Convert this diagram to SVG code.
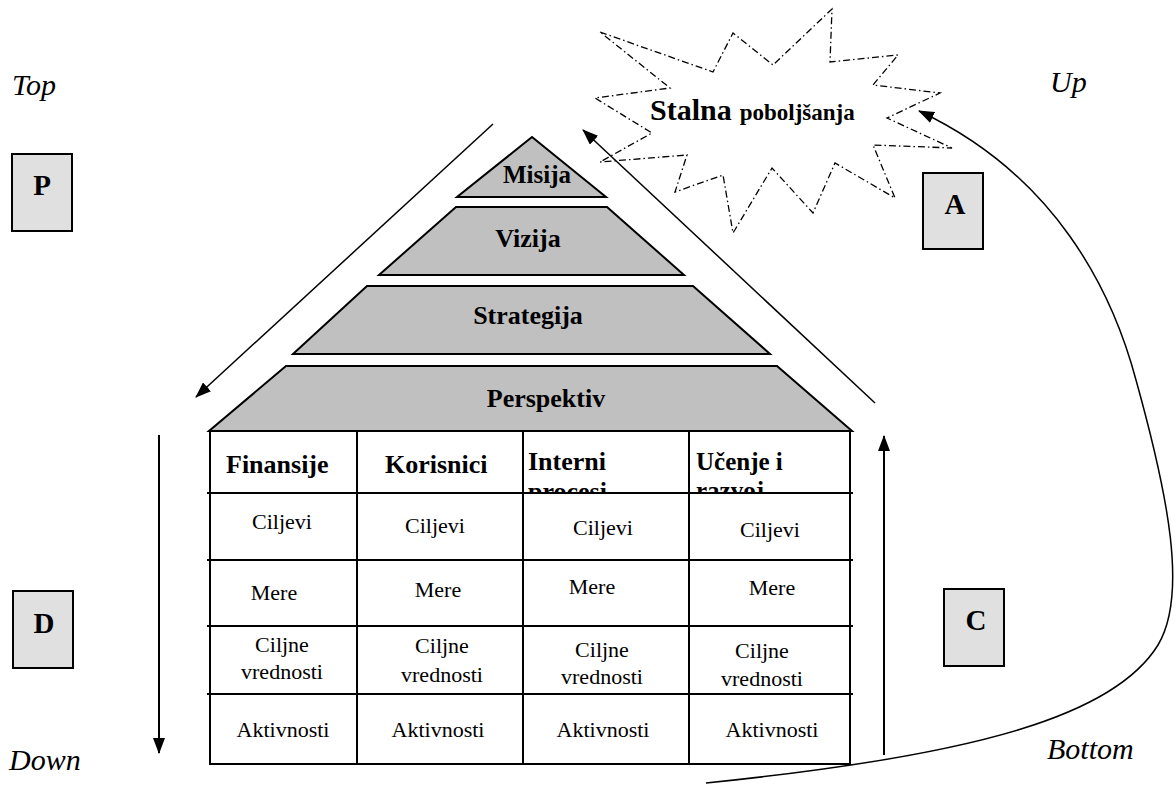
<svg xmlns="http://www.w3.org/2000/svg" width="1176" height="785" viewBox="0 0 1176 785">
<defs>
<style>
.b{font-family:"Liberation Serif","Times New Roman",serif;font-weight:bold;fill:#000}
.r{font-family:"Liberation Serif","Times New Roman",serif;fill:#000;font-size:22px;text-anchor:middle}
.it{font-family:"Liberation Serif","Times New Roman",serif;font-style:italic;font-size:30px;fill:#000}
.pyr{fill:#c0c0c0;stroke:#000;stroke-width:2}
.box{fill:#e0e0e0;stroke:#000;stroke-width:2}
.ln{fill:none;stroke:#000;stroke-width:2}
.thin{fill:none;stroke:#000;stroke-width:1.5}
</style>
<marker id="ah" markerUnits="userSpaceOnUse" markerWidth="16" markerHeight="12" refX="15" refY="6" orient="auto">
<path d="M0,0 L16,6 L0,12 z" fill="#000"/>
</marker>
<clipPath id="hdr"><rect x="210" y="433" width="640" height="59"/></clipPath>
</defs>
<rect width="1176" height="785" fill="#fff"/>

<g id="starburst">
<polygon points="600,32 713,72 733,33 773,65 832,9 830,62 898,55 873,85 940,93 887,118 952,148 873,145 895,198 835,163 813,213 772,168 733,233 723,175 675,192 687,155 600,162 652,133 595,98 670,88" fill="#fff" stroke="#000" stroke-width="1.3" stroke-dasharray="7,3,1.5,3"/>
<text class="b" x="650" y="120"><tspan font-size="30">Stalna</tspan><tspan font-size="23" dx="8">poboljšanja</tspan></text>
</g>

<g id="pyramid">
<g id="misija"><polygon class="pyr" points="532,137 606,197 457,197"/><text class="b" font-size="25" x="537" y="183" text-anchor="middle">Misija</text></g>
<g id="vizija"><polygon class="pyr" points="456,207 607,207 684,275 379,275"/><text class="b" font-size="26" x="528" y="247" text-anchor="middle">Vizija</text></g>
<g id="strategija"><polygon class="pyr" points="367,286 693,286 770,354 293,354"/><text class="b" font-size="26" x="528" y="324" text-anchor="middle">Strategija</text></g>
<g id="perspektiv"><polygon class="pyr" points="286,366 777,366 852,431 209,431"/><text class="b" font-size="26" x="546" y="407" text-anchor="middle">Perspektiv</text></g>
</g>

<g id="table">
<rect x="210" y="431" width="640" height="333" fill="#fff" stroke="#000" stroke-width="2"/>
<path class="ln" d="M357,431 V764 M523,431 V764 M689,431 V764 M207,493 H853 M207,560 H853 M207,626 H853 M207,694 H853"/>
<text class="b" font-size="26" x="226" y="473">Finansije</text>
<text class="b" font-size="26" x="385" y="473">Korisnici</text>
<g clip-path="url(#hdr)">
<text class="b" font-size="26" x="528" y="470">Interni<tspan x="528" y="500">procesi</tspan></text>
<text class="b" font-size="25" x="696" y="470">Učenje i<tspan x="696" y="499">razvoj</tspan></text>
</g>
<text class="r" x="282" y="529">Ciljevi</text>
<text class="r" x="435" y="533">Ciljevi</text>
<text class="r" x="603" y="535">Ciljevi</text>
<text class="r" x="770" y="537">Ciljevi</text>
<text class="r" x="274" y="600">Mere</text>
<text class="r" x="438" y="597">Mere</text>
<text class="r" x="592" y="594">Mere</text>
<text class="r" x="772" y="595">Mere</text>
<text class="r" x="282" y="652">Ciljne<tspan x="282" y="679">vrednosti</tspan></text>
<text class="r" x="442" y="653">Ciljne<tspan x="442" y="682">vrednosti</tspan></text>
<text class="r" x="602" y="657">Ciljne<tspan x="602" y="684">vrednosti</tspan></text>
<text class="r" x="762" y="658">Ciljne<tspan x="762" y="686">vrednosti</tspan></text>
<text class="r" x="283" y="737">Aktivnosti</text>
<text class="r" x="438" y="737">Aktivnosti</text>
<text class="r" x="603" y="737">Aktivnosti</text>
<text class="r" x="772" y="737">Aktivnosti</text>
</g>

<g id="boxP"><rect class="box" x="12" y="154" width="60" height="77"/><text class="b" font-size="29" x="42" y="195" text-anchor="middle">P</text></g>
<g id="boxA"><rect class="box" x="923" y="173" width="60" height="76"/><text class="b" font-size="29" x="955" y="214" text-anchor="middle">A</text></g>
<g id="boxD"><rect class="box" x="13" y="591" width="60" height="77"/><text class="b" font-size="29" x="44" y="633" text-anchor="middle">D</text></g>
<g id="boxC"><rect class="box" x="944" y="589" width="60" height="77"/><text class="b" font-size="29" x="976" y="630" text-anchor="middle">C</text></g>

<g id="labels">
<text class="it" x="12" y="95">Top</text>
<text class="it" x="1050" y="92">Up</text>
<text class="it" x="9" y="770">Down</text>
<text class="it" x="1047" y="759">Bottom</text>
</g>

<g id="connectors">
<line class="thin" x1="493" y1="124" x2="196" y2="397" marker-end="url(#ah)"/>
<line class="thin" x1="875" y1="403" x2="583" y2="130" marker-end="url(#ah)"/>
<line class="ln" x1="159" y1="435" x2="159" y2="753" marker-end="url(#ah)"/>
<line class="ln" x1="884" y1="755" x2="884" y2="436" marker-end="url(#ah)"/>
<path class="thin" d="M706,783 C980,755 1115,715 1158,645 C1188,595 1168,495 1136,380 C1112,290 1055,175 919,111" marker-end="url(#ah)"/>
</g>
</svg>
